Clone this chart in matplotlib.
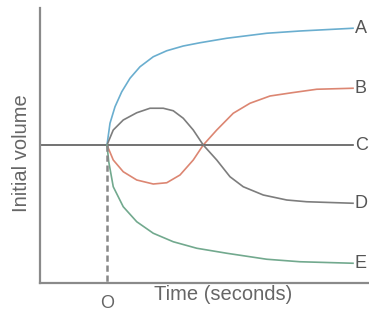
import numpy as np
import matplotlib
matplotlib.use("Agg")
import matplotlib.pyplot as plt

plt.rcParams['font.family'] = ['Liberation Sans', 'DejaVu Sans']

# Curves (time units, volume relative to initial = 0)
t_a = [0, 0.12, 0.32, 0.59, 0.92, 1.32, 1.85, 2.39, 3.05, 3.72, 4.79, 6.39, 7.72, 9.84]
v_a = [0, 0.87, 1.53, 2.13, 2.67, 3.13, 3.53, 3.77, 3.96, 4.09, 4.27, 4.47, 4.56, 4.67]

t_b = [0, 0.25, 0.65, 1.19, 1.85, 2.39, 2.92, 3.45, 3.85, 4.39, 5.05, 5.72, 6.52, 7.39, 8.39, 9.84]
v_b = [0, -0.6, -1.07, -1.4, -1.56, -1.51, -1.2, -0.6, 0, 0.6, 1.27, 1.67, 1.96, 2.09, 2.23, 2.27]

t_c = [-2.68, 9.84]
v_c = [0, 0]

t_d = [0, 0.25, 0.65, 1.19, 1.72, 2.25, 2.65, 3.05, 3.45, 3.85, 4.39, 4.92, 5.45, 6.25, 7.19, 7.99, 9.84]
v_d = [0, 0.6, 1.0, 1.29, 1.47, 1.47, 1.37, 1.07, 0.6, 0, -0.6, -1.27, -1.67, -2.0, -2.2, -2.27, -2.33]

t_e = [0, 0.07, 0.25, 0.65, 1.19, 1.85, 2.65, 3.59, 4.79, 6.39, 7.72, 9.84]
v_e = [0, -0.67, -1.67, -2.47, -3.07, -3.53, -3.87, -4.13, -4.33, -4.57, -4.67, -4.73]

labels = ['A', 'B', 'C', 'D', 'E']
colors = ['#6aaecf', '#dc8672', '#5a5a5a', '#7d7d7d', '#72a98e']

fig = plt.figure(figsize=(3.69, 3.11), dpi=100)
ax = fig.add_axes([40 / 369, 28 / 311, 329 / 369, 275 / 311])

series = [(t_a, v_a), (t_b, v_b), (t_c, v_c), (t_d, v_d), (t_e, v_e)]
for (t, v), lab, col in zip(series, labels, colors):
    ax.plot(t, v, color=col, lw=1.2, solid_joinstyle='round')
    ax.text(t[-1] + 0.08, v[-1], lab, color='#555555', fontsize=13,
            ha='left', va='center', clip_on=False)

# time zero marker
ax.plot([0, 0], [0, -5.52], color='#888888', lw=1.8, ls=(0, (2.5, 1.5)))

ax.set_xlim(-2.68, 10.48)
ax.set_ylim(-5.52, 5.48)
for s in ['top', 'right']:
    ax.spines[s].set_visible(False)
for s in ['left', 'bottom']:
    ax.spines[s].set_color('#8a8a8a')
    ax.spines[s].set_linewidth(1.6)
ax.set_xticks([])
ax.set_yticks([])

fig.text(22 / 369, 1 - 153 / 311, 'Initial volume', rotation=90, fontsize=14.5,
         color='#666666', ha='center', va='center')
fig.text(107 / 369, 1 - 303 / 311, 'O', fontsize=13, color='#666666',
         ha='center', va='center')
fig.text(223 / 369, 1 - 295 / 311, 'Time (seconds)', fontsize=14.5,
         color='#666666', ha='center', va='center')

fig.savefig('out.png', dpi=100)
